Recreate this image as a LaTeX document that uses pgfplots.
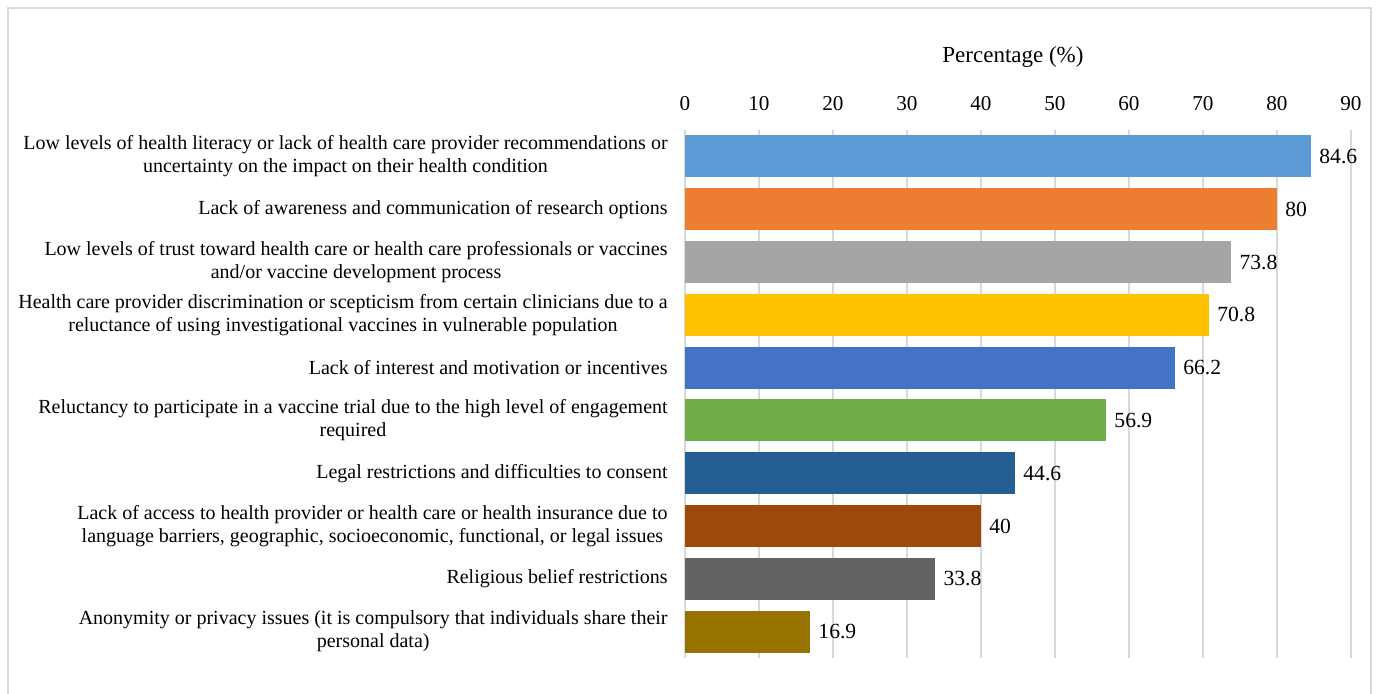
\documentclass[border=0pt]{standalone}
\usepackage{fontspec}
\setmainfont{Liberation Serif}
\usepackage{pgfplots}
\pgfplotsset{compat=1.18}
\definecolor{c1}{HTML}{5B9BD5}
\definecolor{c2}{HTML}{ED7D31}
\definecolor{c3}{HTML}{A5A5A5}
\definecolor{c4}{HTML}{FFC000}
\definecolor{c5}{HTML}{4472C4}
\definecolor{c6}{HTML}{70AD47}
\definecolor{c7}{HTML}{255E91}
\definecolor{c8}{HTML}{9E480E}
\definecolor{c9}{HTML}{636363}
\definecolor{c10}{HTML}{997300}
\definecolor{gridc}{HTML}{D9D9D9}
\definecolor{framec}{HTML}{D9D9D9}
\begin{document}
\begin{tikzpicture}[x=1pt,y=1pt]
\useasboundingbox (0,0) rectangle (689,346.5);
\draw[color=framec, line width=0.6pt] (4,-2) -- (4,342.5) -- (685.5,342.5) -- (685.5,-2);
\begin{axis}[
 at={(342.5pt,17.5pt)}, anchor=south west,
 scale only axis, width=333pt, height=264pt,
 xbar, bar width=21pt, bar shift=0pt,
 xmin=0, xmax=90, xtick={0,10,...,90},
 ymin=-0.5, ymax=9.5, y dir=reverse, ytick={0,...,9},
 yticklabels={
  {Low levels of health literacy or lack of health care provider recommendations or\\uncertainty on the impact on their health condition},
  {Lack of awareness and communication of research options},
  {Low levels of trust toward health care or health care professionals or vaccines\\and/or vaccine development process},
  {Health care provider discrimination or scepticism from certain clinicians due to a\\reluctance of using investigational vaccines in vulnerable population},
  {Lack of interest and motivation or incentives},
  {Reluctancy to participate in a vaccine trial due to the high level of engagement\\required},
  {Legal restrictions and difficulties to consent},
  {Lack of access to health provider or health care or health insurance due to\\language barriers, geographic, socioeconomic, functional, or legal issues},
  {Religious belief restrictions},
  {Anonymity or privacy issues (it is compulsory that individuals share their\\personal data)}
 },
 axis line style={draw=none},
 major tick length=0pt,
 xmajorgrids, grid style={color=gridc, line width=0.6pt},
 xticklabel pos=top,
 /pgf/number format/assume math mode=true,
 yticklabel style={align=center, inner sep=0pt, xshift=-8.5pt, font=\fontsize{10}{11.5}\selectfont},
 xticklabel style={anchor=south, inner sep=0pt, yshift=9.5pt, font=\fontsize{10.6}{12}\selectfont},
 title={Percentage (\%)},
 title style={at={(0.5,1)}, anchor=base, yshift=27.5pt, xshift=-2.5pt, font=\fontsize{11.5}{13}\selectfont},
 point meta=x,
 nodes near coords,
 nodes near coords style={anchor=west, inner sep=0pt, xshift=4pt, font=\fontsize{10.8}{12}\selectfont, color=black},
]
\addplot[fill=c1, draw=none] coordinates {(84.6,0)};
\addplot[fill=c2, draw=none] coordinates {(80,1)};
\addplot[fill=c3, draw=none] coordinates {(73.8,2)};
\addplot[fill=c4, draw=none] coordinates {(70.8,3)};
\addplot[fill=c5, draw=none] coordinates {(66.2,4)};
\addplot[fill=c6, draw=none] coordinates {(56.9,5)};
\addplot[fill=c7, draw=none] coordinates {(44.6,6)};
\addplot[fill=c8, draw=none] coordinates {(40,7)};
\addplot[fill=c9, draw=none] coordinates {(33.8,8)};
\addplot[fill=c10, draw=none] coordinates {(16.9,9)};
\end{axis}
\end{tikzpicture}
\end{document}
